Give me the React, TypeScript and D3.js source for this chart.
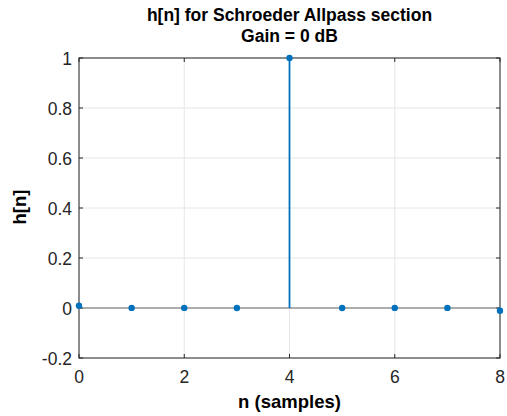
import React from "react";
import * as d3 from "d3";

const nValues = [0, 1, 2, 3, 4, 5, 6, 7, 8];
const hValues = [0.009, 0.0005, 0.0003, 0.0002, 1, 0.0002, 0.0003, 0.0005, -0.011];
const xTicks = [0, 2, 4, 6, 8];
const yTicks = [-0.2, 0, 0.2, 0.4, 0.6, 0.8, 1];
const titleLines = ["h[n] for Schroeder Allpass section", "Gain = 0 dB"];
const xLabel = "n (samples)";
const yLabel = "h[n]";

export default function App() {
  const W = 507, H = 416;
  const left = 79, right = 500, top = 58, bottom = 358;
  const x = d3.scaleLinear().domain([0, 8]).range([left, right]);
  const y = d3.scaleLinear().domain([-0.2, 1]).range([bottom, top]);
  const font = "'Liberation Sans', Arial, Helvetica, sans-serif";
  const color = "#0072BD";
  const fmt = (v: number) => (v === 0 ? "0" : String(+v.toFixed(1)));
  const cx = (left + right) / 2;
  return (
    <svg width={W} height={H} style={{ position: "absolute", left: 0, top: 0 }} fontFamily={font}>
      <rect x={0} y={0} width={W} height={H} fill="#fff" />
      {xTicks.map((t) => (
        <line key={"gx" + t} x1={x(t)} x2={x(t)} y1={top} y2={bottom} stroke="#e6e6e6" strokeWidth={1} />
      ))}
      {yTicks.map((t) => (
        <line key={"gy" + t} x1={left} x2={right} y1={y(t)} y2={y(t)} stroke="#e6e6e6" strokeWidth={1} />
      ))}
      <rect x={left} y={top} width={right - left} height={bottom - top} fill="none" stroke="#262626" strokeWidth={1} />
      {xTicks.map((t) => (
        <g key={"tx" + t}>
          <line x1={x(t)} x2={x(t)} y1={bottom} y2={bottom - 4} stroke="#262626" />
          <line x1={x(t)} x2={x(t)} y1={top} y2={top + 4} stroke="#262626" />
          <text x={x(t)} y={bottom + 25} textAnchor="middle" fontSize={17.5} fill="#262626">{t}</text>
        </g>
      ))}
      {yTicks.map((t) => (
        <g key={"ty" + t}>
          <line x1={left} x2={left + 4} y1={y(t)} y2={y(t)} stroke="#262626" />
          <line x1={right} x2={right - 4} y1={y(t)} y2={y(t)} stroke="#262626" />
          <text x={left - 7} y={y(t) + 7} textAnchor="end" fontSize={17.5} fill="#262626">{fmt(t)}</text>
        </g>
      ))}
      <line x1={left} x2={right} y1={y(0)} y2={y(0)} stroke="#666" strokeWidth={1.2} />
      {nValues.map((n, i) => (
        <g key={"s" + n}>
          <line x1={x(n)} x2={x(n)} y1={y(0)} y2={y(hValues[i])} stroke={color} strokeWidth={1.8} />
          <circle cx={x(n)} cy={y(hValues[i])} r={3.2} fill={color} />
        </g>
      ))}
      {titleLines.map((l, i) => (
        <text key={"t" + i} x={cx} y={21 + i * 20.5} textAnchor="middle" fontSize={17.5} fontWeight="bold" fill="#000">{l}</text>
      ))}
      <text x={cx} y={408} textAnchor="middle" fontSize={18.5} fontWeight="bold" fill="#000">{xLabel}</text>
      <text transform={`translate(26,207) rotate(-90)`} textAnchor="middle" fontSize={18.5} fontWeight="bold" fill="#000">{yLabel}</text>
    </svg>
  );
}
